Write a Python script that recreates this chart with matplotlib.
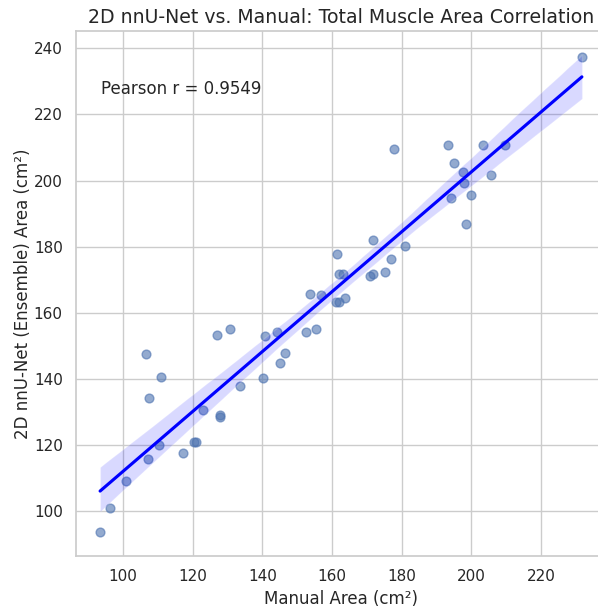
import numpy as np
import pandas as pd
import matplotlib
matplotlib.use("Agg")
import matplotlib.pyplot as plt
import seaborn as sns

# manual vs. model areas (cm^2)
manual_area = [93.4, 96.2, 100.8, 106.6, 107.4, 111.0, 107.2, 110.2, 117.1, 120.4,
               120.8, 123.0, 127.7, 127.7, 127.0, 130.7, 133.5, 140.1, 140.6, 144.2,
               145.1, 146.6, 152.5, 155.5, 153.7, 156.9, 161.2, 162.0, 163.6, 161.3,
               162.0, 163.0, 171.6, 177.0, 180.8, 171.0, 171.6, 175.1, 177.7, 193.2,
               203.3, 209.6, 195.1, 197.7, 197.9, 205.5, 194.0, 200.0, 198.3, 231.7]
nnunet_area = [93.6, 101.0, 109.0, 147.6, 134.2, 140.4, 115.8, 119.9, 117.4, 120.8,
               120.8, 130.5, 129.0, 128.3, 153.2, 155.1, 137.8, 140.1, 153.0, 154.3,
               144.8, 147.9, 154.3, 155.2, 165.7, 165.3, 163.1, 163.1, 164.6, 177.7,
               171.6, 171.6, 181.9, 176.4, 180.1, 171.0, 171.8, 172.2, 209.5, 210.9,
               210.9, 210.9, 205.2, 202.6, 199.4, 201.8, 194.7, 195.6, 186.9, 237.3]
pearson_r = 0.9549

df = pd.DataFrame({"manual": manual_area, "nnunet": nnunet_area})

sns.set_theme(style="whitegrid")
plt.rcParams["font.family"] = ["DejaVu Sans"]

fig = plt.figure(figsize=(5.98, 6.08), dpi=100)
# axes runs a bit past the right edge, like the cropped original
ax = fig.add_axes([76 / 598, 52 / 608, 530 / 598, 525 / 608])

sns.regplot(data=df, x="manual", y="nnunet", ax=ax, seed=42,
            scatter_kws={"alpha": 0.6, "s": 40},
            line_kws={"color": "blue"})

ax.text(0.047, 0.89, f"Pearson r = {pearson_r:.4f}", transform=ax.transAxes,
        fontsize=12, va="center", color=".15")
ax.set_title("2D nnU-Net vs. Manual: Total Muscle Area Correlation", fontsize=13.6)
ax.set_xlabel("Manual Area (cm²)", fontsize=12)
ax.set_ylabel("2D nnU-Net (Ensemble) Area (cm²)", fontsize=12, labelpad=1)
ax.tick_params(labelsize=11)

fig.savefig("out.png", dpi=100)
